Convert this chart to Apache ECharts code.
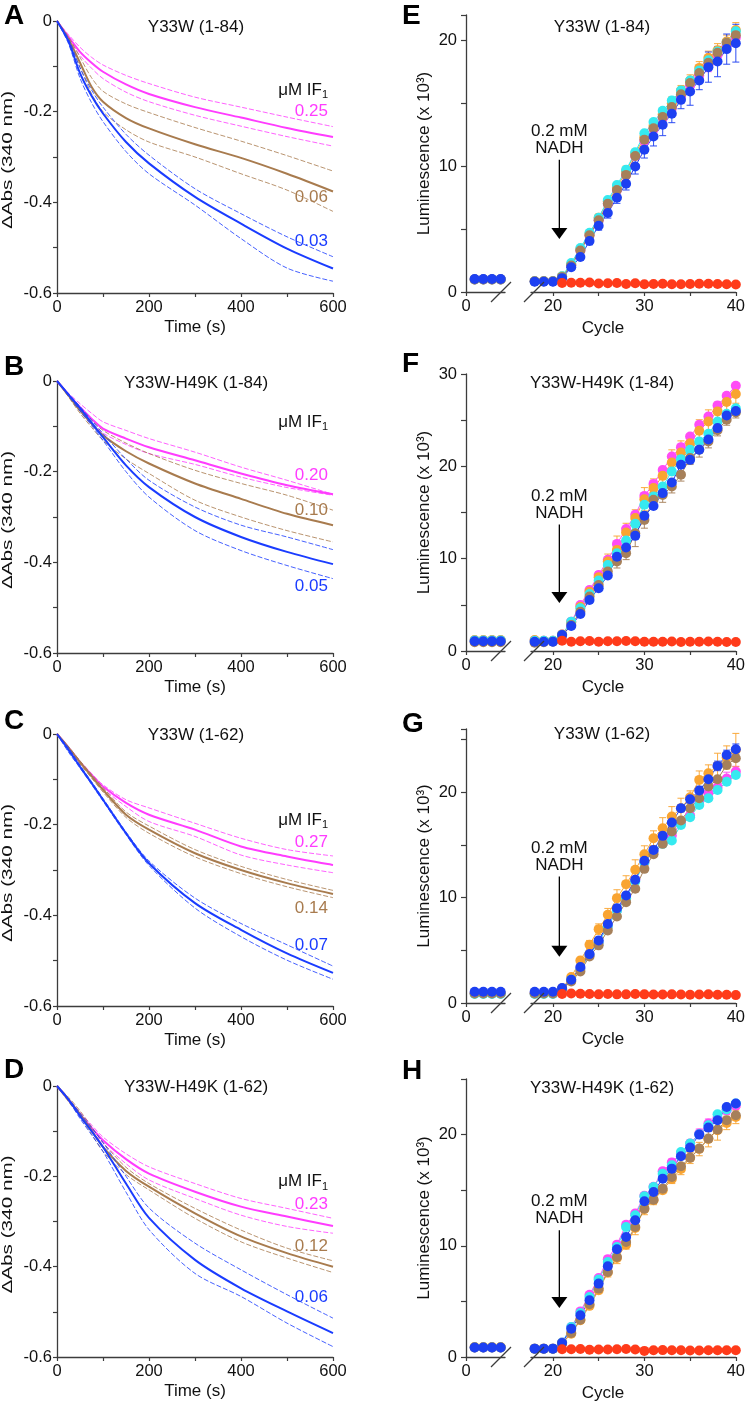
<!DOCTYPE html>
<html>
<head>
<meta charset="utf-8">
<script src="https://cdn.jsdelivr.net/npm/echarts@6/dist/echarts.min.js"></script>
<style>
  html, body { margin: 0; padding: 0; background: #fff; }
  #fig { width: 748px; height: 1402px; }
</style>
</head>
<body>
<div id="fig"></div>
<script>
// ---- absorbance traces (panels A-D), ΔAbs at 340 nm vs time (s) ----
const T = [0, 25, 50, 75, 100, 150, 200, 300, 400, 500, 600];

const A_mag   = [0, -0.035, -0.068, -0.092, -0.112, -0.140, -0.161, -0.190, -0.213, -0.236, -0.256];
const A_magHi = [0, -0.030, -0.058, -0.080, -0.097, -0.120, -0.138, -0.168, -0.190, -0.212, -0.233];
const A_magLo = [0, -0.040, -0.076, -0.104, -0.127, -0.157, -0.178, -0.208, -0.232, -0.255, -0.276];
const A_brn   = [0, -0.040, -0.092, -0.145, -0.178, -0.214, -0.237, -0.272, -0.302, -0.337, -0.376];
const A_brnHi = [0, -0.035, -0.080, -0.125, -0.155, -0.183, -0.202, -0.235, -0.265, -0.297, -0.331];
const A_brnLo = [0, -0.045, -0.102, -0.160, -0.200, -0.240, -0.267, -0.300, -0.337, -0.373, -0.420];
const A_blu   = [0, -0.045, -0.115, -0.165, -0.204, -0.267, -0.314, -0.388, -0.447, -0.502, -0.546];
const A_bluHi = [0, -0.040, -0.103, -0.152, -0.190, -0.250, -0.296, -0.370, -0.425, -0.476, -0.520];
const A_bluLo = [0, -0.050, -0.126, -0.180, -0.222, -0.288, -0.337, -0.406, -0.480, -0.545, -0.574];

const B_mag   = [0, -0.030, -0.058, -0.083, -0.105, -0.127, -0.146, -0.175, -0.204, -0.230, -0.250];
const B_magHi = [0, -0.027, -0.050, -0.071, -0.090, -0.109, -0.127, -0.157, -0.190, -0.219, -0.250];
const B_magLo = [0, -0.033, -0.063, -0.091, -0.115, -0.140, -0.160, -0.184, -0.212, -0.235, -0.252];
const B_brn   = [0, -0.032, -0.065, -0.094, -0.120, -0.155, -0.182, -0.226, -0.260, -0.293, -0.318];
const B_brnHi = [0, -0.030, -0.060, -0.086, -0.109, -0.137, -0.160, -0.197, -0.226, -0.252, -0.285];
const B_brnLo = [0, -0.035, -0.071, -0.102, -0.131, -0.172, -0.204, -0.263, -0.300, -0.330, -0.355];
const B_blu   = [0, -0.030, -0.060, -0.092, -0.124, -0.186, -0.234, -0.300, -0.344, -0.377, -0.404];
const B_bluHi = [0, -0.028, -0.056, -0.086, -0.116, -0.172, -0.219, -0.278, -0.318, -0.344, -0.372];
const B_bluLo = [0, -0.033, -0.066, -0.098, -0.131, -0.200, -0.256, -0.330, -0.374, -0.407, -0.436];

const C_mag   = [0, -0.030, -0.062, -0.090, -0.116, -0.152, -0.178, -0.211, -0.248, -0.270, -0.289];
const C_magHi = [0, -0.030, -0.060, -0.087, -0.112, -0.145, -0.163, -0.197, -0.230, -0.255, -0.269];
const C_magLo = [0, -0.030, -0.064, -0.093, -0.120, -0.160, -0.193, -0.226, -0.267, -0.289, -0.306];
const C_brn   = [0, -0.030, -0.062, -0.093, -0.123, -0.178, -0.211, -0.263, -0.300, -0.329, -0.353];
const C_brnHi = [0, -0.028, -0.059, -0.089, -0.118, -0.172, -0.203, -0.255, -0.292, -0.321, -0.345];
const C_brnLo = [0, -0.032, -0.066, -0.097, -0.128, -0.184, -0.219, -0.271, -0.308, -0.337, -0.361];
const C_blu   = [0, -0.035, -0.072, -0.108, -0.145, -0.219, -0.285, -0.373, -0.432, -0.484, -0.527];
const C_bluHi = [0, -0.030, -0.069, -0.105, -0.142, -0.216, -0.280, -0.362, -0.418, -0.465, -0.512];
const C_bluLo = [0, -0.040, -0.075, -0.111, -0.148, -0.222, -0.290, -0.384, -0.447, -0.499, -0.541];

const D_mag   = [0, -0.030, -0.063, -0.092, -0.120, -0.162, -0.194, -0.234, -0.267, -0.289, -0.310];
const D_magHi = [0, -0.028, -0.058, -0.086, -0.113, -0.150, -0.179, -0.216, -0.249, -0.271, -0.293];
const D_magLo = [0, -0.032, -0.068, -0.098, -0.127, -0.172, -0.208, -0.249, -0.286, -0.311, -0.326];
const D_brn   = [0, -0.030, -0.062, -0.098, -0.135, -0.188, -0.223, -0.282, -0.333, -0.370, -0.400];
const D_brnHi = [0, -0.025, -0.055, -0.090, -0.125, -0.180, -0.216, -0.271, -0.319, -0.359, -0.387];
const D_brnLo = [0, -0.035, -0.068, -0.106, -0.145, -0.196, -0.230, -0.293, -0.345, -0.381, -0.413];
const D_blu   = [0, -0.030, -0.066, -0.100, -0.135, -0.216, -0.292, -0.385, -0.448, -0.499, -0.547];
const D_bluHi = [0, -0.028, -0.060, -0.092, -0.125, -0.200, -0.270, -0.348, -0.407, -0.462, -0.514];
const D_bluLo = [0, -0.032, -0.072, -0.108, -0.145, -0.235, -0.318, -0.415, -0.466, -0.525, -0.577];

const CONC_A = ['0.25', '0.06', '0.03'];
const CONC_B = ['0.20', '0.10', '0.05'];
const CONC_C = ['0.27', '0.14', '0.07'];
const CONC_D = ['0.23', '0.12', '0.06'];

// ---- luminescence (panels E-H), x 10^3 vs cycle ----
// first 4 values: cycles 1-4, then cycles 18-40
const CYC_PRE = [1, 2, 3, 4];
const CYC_RUN = [18, 19, 20, 21, 22, 23, 24, 25, 26, 27, 28, 29, 30, 31, 32, 33, 34, 35, 36, 37, 38, 39, 40];
const CYC_RED = [21, 22, 23, 24, 25, 26, 27, 28, 29, 30, 31, 32, 33, 34, 35, 36, 37, 38, 39, 40];

const E_mag = [1.0, 1.0, 1.0, 1.0, 0.85, 0.85, 0.85, 1.2, 2.1, 3.3, 4.5, 5.7, 7.0, 8.1, 9.3, 10.8, 12.0, 12.9, 13.8, 14.6, 15.5, 16.4, 17.2, 18.0, 18.8, 19.6, 20.2];
const E_org = [1.0, 1.0, 1.0, 1.0, 0.85, 0.85, 0.85, 1.25, 2.2, 3.4, 4.6, 5.9, 7.2, 8.3, 9.6, 11.0, 12.3, 13.2, 14.1, 15.0, 16.0, 16.8, 17.8, 18.6, 19.2, 19.9, 20.8];
const E_cyn = [1.0, 1.0, 1.0, 1.0, 0.85, 0.85, 0.85, 1.25, 2.3, 3.5, 4.7, 5.9, 7.3, 8.5, 9.7, 11.1, 12.6, 13.5, 14.4, 15.2, 16.0, 16.8, 17.6, 18.4, 19.1, 19.8, 20.7];
const E_brn = [1.0, 1.0, 1.0, 1.0, 0.85, 0.85, 0.85, 1.2, 2.1, 3.3, 4.5, 5.7, 7.0, 8.1, 9.3, 10.8, 12.1, 13.0, 13.9, 14.7, 15.7, 16.6, 17.4, 18.2, 19.0, 19.8, 20.4];
const E_blu = [1.03, 1.03, 1.03, 1.03, 0.82, 0.82, 0.82, 1.1, 1.96, 2.78, 4.05, 5.26, 6.27, 7.49, 8.6, 9.97, 11.3, 12.35, 13.28, 14.15, 15.26, 15.93, 16.8, 17.86, 18.3, 19.29, 19.76];
const E_red = [0.72, 0.74, 0.74, 0.75, 0.68, 0.7, 0.72, 0.64, 0.7, 0.62, 0.64, 0.66, 0.62, 0.62, 0.64, 0.66, 0.66, 0.64, 0.62, 0.6];
const E_magErr = [0.1, 0.1, 0.1, 0.1, 0.15, 0.15, 0.2, 0.2, 0.25, 0.25, 0.3, 0.3, 0.3, 0.3, 0.3, 0.3, 0.4, 0.4, 0.4, 0.5, 0.5, 0.5, 0.6];
const E_orgErr = [0.1, 0.1, 0.1, 0.15, 0.2, 0.2, 0.25, 0.3, 0.3, 0.35, 0.4, 0.35, 0.4, 0.45, 0.5, 0.5, 0.4, 0.45, 0.5, 0.53, 0.53, 0.5, 0.6];
const E_bluErr = [0.1, 0.1, 0.1, 0.1, 0.2, 0.25, 0.3, 0.35, 0.4, 0.45, 0.5, 0.6, 0.66, 0.75, 0.86, 0.7, 0.7, 1.1, 0.73, 1.2, 1.2, 1.2, 1.5];

const F_mag = [1.15, 1.15, 1.15, 1.15, 1.15, 1.1, 1.1, 1.8, 3.18, 4.99, 6.6, 8.24, 9.87, 11.6, 13.2, 14.75, 16.8, 18.1, 19.6, 21.07, 22.08, 23.24, 24.5, 25.4, 26.6, 27.65, 28.73];
const F_org = [1.2, 1.2, 1.2, 1.2, 1.2, 1.1, 1.1, 1.8, 3.1, 4.8, 6.43, 8.0, 9.7, 10.95, 12.83, 14.4, 16.44, 17.64, 18.97, 20.42, 21.5, 22.5, 23.85, 24.86, 25.95, 26.96, 27.83];
const F_cyn = [1.15, 1.15, 1.15, 1.15, 1.1, 1.1, 1.1, 1.75, 3.18, 4.63, 6.18, 7.63, 9.32, 10.59, 11.96, 13.77, 15.83, 16.73, 17.82, 19.44, 20.78, 21.79, 22.7, 23.53, 24.86, 25.7, 26.3];
const F_brn = [0.95, 0.95, 0.95, 0.95, 0.9, 0.95, 1.0, 1.7, 2.82, 4.26, 5.9, 7.15, 8.6, 9.69, 10.6, 12.76, 14.2, 16.37, 16.9, 17.82, 19.1, 20.9, 21.8, 22.7, 23.9, 25.05, 25.84];
const F_blu = [1.05, 1.05, 1.05, 1.05, 1.0, 1.0, 1.0, 1.73, 2.71, 4.0, 5.53, 6.8, 8.17, 10.2, 11.2, 12.47, 14.64, 15.7, 17.1, 18.25, 20.17, 20.7, 21.8, 22.9, 24.14, 25.5, 26.0];
const F_red = [1.12, 1.0, 1.05, 1.08, 1.0, 1.05, 1.05, 1.08, 1.05, 1.0, 1.0, 1.0, 1.02, 0.98, 1.0, 1.0, 1.02, 1.0, 0.97, 0.97];
const F_orgErr = [0.1, 0.1, 0.1, 0.2, 0.3, 0.4, 0.5, 0.6, 0.8, 1.5, 1.0, 0.9, 1.26, 1.0, 0.9, 1.37, 1.26, 1.0, 1.2, 1.26, 1.0, 1.0, 1.0];
const F_brnErr = [0.1, 0.1, 0.1, 0.2, 0.3, 0.3, 0.4, 0.5, 0.6, 0.7, 0.7, 1.45, 0.9, 0.8, 0.8, 0.7, 0.7, 0.7, 0.8, 0.7, 0.6, 0.6, 0.6];

const G_mag = [0.9, 0.9, 0.9, 0.9, 0.9, 0.9, 0.9, 1.3, 2.2, 3.3, 4.6, 5.8, 7.3, 8.8, 10.1, 11.7, 13.3, 14.4, 15.2, 15.9, 17.1, 17.8, 19.1, 19.9, 20.5, 21.3, 21.96];
const G_org = [0.9, 0.9, 0.9, 0.9, 0.9, 0.9, 0.9, 1.4, 2.46, 4.04, 5.53, 7.01, 8.37, 9.95, 11.28, 12.64, 14.12, 15.64, 16.59, 17.69, 18.48, 19.53, 21.17, 21.8, 22.5, 23.3, 24.0];
const G_cyn = [0.85, 0.85, 0.85, 0.85, 0.85, 0.85, 0.85, 1.3, 2.2, 3.22, 4.58, 5.75, 7.27, 8.75, 9.95, 11.53, 13.33, 14.44, 15.1, 15.42, 16.9, 17.63, 18.8, 19.43, 20.22, 21.0, 21.64];
const G_brn = [0.9, 0.9, 0.9, 0.9, 0.9, 0.9, 0.9, 1.3, 2.05, 3.0, 4.42, 5.47, 6.89, 8.21, 9.57, 10.84, 12.73, 14.12, 15.1, 16.27, 17.31, 18.48, 19.43, 20.54, 21.23, 22.59, 23.22];
const G_blu = [1.07, 1.07, 1.07, 1.07, 1.07, 1.07, 1.07, 1.42, 2.2, 3.41, 4.64, 5.94, 7.49, 9.0, 10.2, 11.69, 13.49, 14.53, 15.86, 17.12, 18.48, 19.34, 20.16, 21.23, 22.5, 23.54, 24.08];
const G_red = [0.85, 0.9, 0.88, 0.85, 0.82, 0.85, 0.82, 0.82, 0.85, 0.82, 0.8, 0.8, 0.82, 0.8, 0.78, 0.8, 0.82, 0.78, 0.78, 0.75];
const G_magErr = [0.1, 0.1, 0.1, 0.1, 0.15, 0.2, 0.2, 0.25, 0.3, 0.3, 0.3, 0.3, 0.3, 0.3, 0.35, 0.35, 0.4, 0.4, 0.4, 0.5, 0.45, 0.6, 0.5];
const G_orgErr = [0.1, 0.1, 0.1, 0.1, 0.2, 0.3, 0.4, 0.5, 0.6, 0.8, 0.8, 0.95, 0.8, 0.7, 1.0, 0.95, 0.95, 0.6, 0.85, 0.8, 1.2, 1.1, 1.58];
const G_bluErr = [0.1, 0.1, 0.1, 0.1, 0.15, 0.2, 0.2, 0.2, 0.25, 0.25, 0.3, 0.3, 0.3, 0.3, 0.3, 0.3, 0.35, 0.35, 0.4, 0.4, 0.45, 0.45, 0.5];

const H_mag = [0.85, 0.85, 0.85, 0.85, 0.75, 0.75, 0.75, 1.3, 2.7, 4.1, 5.6, 7.1, 8.8, 10.1, 11.9, 12.9, 14.5, 15.3, 16.7, 17.5, 18.3, 19.2, 20.1, 21.0, 21.5, 22.2, 22.6];
const H_org = [0.9, 0.9, 0.9, 0.9, 0.75, 0.75, 0.75, 1.2, 2.1, 3.3, 4.6, 6.0, 7.6, 8.9, 10.1, 11.6, 13.3, 14.1, 15.0, 16.0, 16.9, 17.9, 18.7, 19.6, 20.4, 21.05, 21.59];
const H_cyn = [0.85, 0.85, 0.85, 0.85, 0.75, 0.75, 0.75, 1.3, 2.7, 3.96, 5.4, 6.96, 8.55, 9.9, 11.69, 12.74, 14.45, 15.29, 16.49, 17.24, 18.44, 19.19, 20.03, 20.84, 21.83, 22.25, 22.79];
const H_brn = [0.85, 0.85, 0.85, 0.85, 0.75, 0.75, 0.75, 1.25, 2.16, 3.36, 4.74, 6.15, 7.65, 9.0, 10.34, 11.69, 13.34, 14.15, 15.14, 16.19, 17.15, 17.93, 18.74, 19.64, 20.45, 21.29, 21.74];
const H_blu = [0.85, 0.85, 0.85, 0.85, 0.75, 0.75, 0.75, 1.26, 2.55, 3.75, 5.1, 6.6, 8.16, 9.69, 10.79, 12.29, 14.0, 14.84, 16.04, 16.94, 18.05, 18.83, 20.0, 20.63, 21.29, 22.49, 22.79];
const H_red = [0.7, 0.7, 0.72, 0.65, 0.68, 0.68, 0.7, 0.72, 0.68, 0.55, 0.6, 0.62, 0.6, 0.6, 0.58, 0.58, 0.6, 0.6, 0.6, 0.6];
const H_magErr = [0.1, 0.1, 0.1, 0.1, 0.15, 0.2, 0.2, 0.2, 0.25, 0.3, 0.3, 0.3, 0.3, 0.3, 0.3, 0.3, 0.3, 0.35, 0.4, 0.4, 0.5, 0.4, 0.3];
const H_orgErr = [0.1, 0.1, 0.1, 0.1, 0.2, 0.2, 0.3, 0.3, 0.4, 0.5, 0.4, 0.6, 0.5, 0.4, 0.3, 0.4, 0.5, 0.5, 0.6, 0.7, 0.9, 0.6, 0.6];

// ---- styling / layout ----
const FONT = "'Liberation Sans', Arial, sans-serif";
const INK = '#111';
const AXIS = '#3c3c3c';
const TRACE = { mag: '#ff3cff', brn: '#a87b4e', blu: '#1a3cff' };
const DOT = { mag: '#ff4cf6', org: '#f9a431', cyn: '#35eaf0', brn: '#a6805a', blu: '#1d40f2', red: '#ff3b1a' };

const LEFT = [
  { tag: 'A', title: 'Y33W (1-84)', top: 21, height: 272, titleY: 27, tagY: 16,
    curves: { mag: [A_mag, A_magHi, A_magLo], brn: [A_brn, A_brnHi, A_brnLo], blu: [A_blu, A_bluHi, A_bluLo] },
    conc: CONC_A, labelAt: [-0.152, -0.199, -0.390, -0.485] },
  { tag: 'B', title: 'Y33W-H49K (1-84)', top: 381, height: 272, titleY: 383, tagY: 367,
    curves: { mag: [B_mag, B_magHi, B_magLo], brn: [B_brn, B_brnHi, B_brnLo], blu: [B_blu, B_bluHi, B_bluLo] },
    conc: CONC_B, labelAt: [-0.091, -0.208, -0.285, -0.453] },
  { tag: 'C', title: 'Y33W (1-62)', top: 734, height: 272, titleY: 735, tagY: 721,
    curves: { mag: [C_mag, C_magHi, C_magLo], brn: [C_brn, C_brnHi, C_brnLo], blu: [C_blu, C_bluHi, C_bluLo] },
    conc: CONC_C, labelAt: [-0.190, -0.238, -0.384, -0.466] },
  { tag: 'D', title: 'Y33W-H49K (1-62)', top: 1086, height: 271, titleY: 1087, tagY: 1070,
    curves: { mag: [D_mag, D_magHi, D_magLo], brn: [D_brn, D_brnHi, D_brnLo], blu: [D_blu, D_bluHi, D_bluLo] },
    conc: CONC_D, labelAt: [-0.212, -0.263, -0.356, -0.468] }
];

const RIGHT = [
  { tag: 'E', title: 'Y33W (1-84)', top: 15, height: 277, yMax: 22, titleY: 27, tagY: 16, arrow: [20.7, 10.5, 4.2],
    series: [['mag', E_mag, E_magErr], ['org', E_org, E_orgErr], ['cyn', E_cyn, null], ['brn', E_brn, null], ['blu', E_blu, E_bluErr]], red: E_red },
  { tag: 'F', title: 'Y33W-H49K (1-84)', top: 374, height: 277, yMax: 30, titleY: 383, tagY: 364, arrow: [20.7, 13.7, 5.2],
    series: [['mag', F_mag, null], ['org', F_org, F_orgErr], ['cyn', F_cyn, null], ['brn', F_brn, F_brnErr], ['blu', F_blu, null]], red: F_red },
  { tag: 'G', title: 'Y33W (1-62)', top: 729, height: 274, yMax: 26, titleY: 734, tagY: 724, arrow: [20.7, 12.0, 4.4],
    series: [['mag', G_mag, G_magErr], ['org', G_org, G_orgErr], ['cyn', G_cyn, null], ['brn', G_brn, null], ['blu', G_blu, G_bluErr]], red: G_red },
  { tag: 'H', title: 'Y33W-H49K (1-62)', top: 1079, height: 278, yMax: 25, titleY: 1088, tagY: 1071, arrow: [20.7, 11.4, 4.4],
    series: [['mag', H_mag, H_magErr], ['org', H_org, H_orgErr], ['cyn', H_cyn, null], ['brn', H_brn, null], ['blu', H_blu, null]], red: H_red }
];

const LEFT_X = 57, LEFT_W = 276;
const SEG1_X = 466, SEG1_W = 39, SEG1_MAX = 4.5;
const SEG2_X = 531, SEG2_W = 208, SEG2_MIN = 17.6;

const axisLine = { show: true, onZero: false, lineStyle: { color: AXIS, width: 1.3 } };
const tickStyle = { lineStyle: { color: AXIS, width: 1.2 } };
const labelStyle = { color: INK, fontSize: 16.5, fontFamily: FONT };

const grids = [], xAxes = [], yAxes = [], series = [];

LEFT.forEach((p, i) => {
  grids.push({ left: LEFT_X, top: p.top, width: LEFT_W, height: p.height });
  xAxes.push({
    type: 'value', gridIndex: i, min: 0, max: 600, interval: 100,
    axisLine, axisTick: { show: true, length: 4, ...tickStyle }, splitLine: { show: false },
    axisLabel: { ...labelStyle, margin: 6, hideOverlap: false, formatter: v => (v % 200 === 0 ? String(v) : '') }
  });
  yAxes.push({
    type: 'value', gridIndex: i, min: -0.6, max: 0, interval: 0.1,
    axisLine, axisTick: { show: true, length: 4, ...tickStyle }, splitLine: { show: false },
    axisLabel: {
      ...labelStyle, margin: 5, hideOverlap: false,
      formatter: v => { const k = Math.round(v * 10); return k % 2 === 0 ? (k === 0 ? '0' : (k / 10).toFixed(1)) : ''; }
    }
  });
  ['mag', 'brn', 'blu'].forEach(key => {
    const [mid, hi, lo] = p.curves[key];
    [hi, lo].forEach(arr => series.push({
      type: 'line', xAxisIndex: i, yAxisIndex: i, smooth: 0.3, showSymbol: false, silent: true,
      data: T.map((t, k) => [t, arr[k]]),
      lineStyle: { color: TRACE[key], width: 0.9, type: [5, 2], opacity: 0.9 }
    }));
    series.push({
      type: 'line', xAxisIndex: i, yAxisIndex: i, smooth: 0.3, showSymbol: false, silent: true,
      data: T.map((t, k) => [t, mid[k]]),
      lineStyle: { color: TRACE[key], width: 2 }
    });
  });
});

function errorBars(gi, color, vals, errs) {
  return {
    type: 'custom', xAxisIndex: gi, yAxisIndex: gi, silent: true, z: 2,
    data: CYC_RUN.map((c, k) => [c, vals[4 + k], errs[k]]),
    encode: { x: 0, y: 1 },
    renderItem: (params, api) => {
      const x = api.value(0), y = api.value(1), e = api.value(2);
      const hi = api.coord([x, y + e]), lo = api.coord([x, y - e]);
      const st = { stroke: color, lineWidth: 1.1, opacity: 0.85 };
      return {
        type: 'group', children: [
          { type: 'line', shape: { x1: hi[0], y1: hi[1], x2: lo[0], y2: lo[1] }, style: st },
          { type: 'line', shape: { x1: hi[0] - 3.5, y1: hi[1], x2: hi[0] + 3.5, y2: hi[1] }, style: st },
          { type: 'line', shape: { x1: lo[0] - 3.5, y1: lo[1], x2: lo[0] + 3.5, y2: lo[1] }, style: st }
        ]
      };
    }
  };
}

function dotLine(gi, color, data) {
  return {
    type: 'line', xAxisIndex: gi, yAxisIndex: gi, silent: true, z: 3,
    data, symbol: 'circle', symbolSize: 10,
    itemStyle: { color }, lineStyle: { color, width: 1 }
  };
}

RIGHT.forEach((p, j) => {
  const g1 = 4 + 2 * j, g2 = g1 + 1;
  grids.push({ left: SEG1_X, top: p.top, width: SEG1_W, height: p.height });
  grids.push({ left: SEG2_X, top: p.top, width: SEG2_W, height: p.height });
  xAxes.push({
    type: 'value', gridIndex: g1, min: 0, max: SEG1_MAX,
    axisLine, splitLine: { show: false },
    axisTick: { show: true, length: 4, customValues: [0], ...tickStyle },
    axisLabel: { ...labelStyle, margin: 6, customValues: [0] }
  });
  xAxes.push({
    type: 'value', gridIndex: g2, min: SEG2_MIN, max: 40,
    axisLine, splitLine: { show: false },
    axisTick: { show: true, length: 4, customValues: [20, 25, 30, 35, 40], ...tickStyle },
    axisLabel: { ...labelStyle, margin: 6, customValues: [20, 30, 40], hideOverlap: false }
  });
  yAxes.push({
    type: 'value', gridIndex: g1, min: 0, max: p.yMax, interval: 5,
    axisLine, splitLine: { show: false },
    axisTick: { show: true, length: 5, ...tickStyle },
    axisLabel: { ...labelStyle, margin: 9, hideOverlap: false, formatter: v => (v % 10 === 0 ? String(v) : '') },
    name: 'Luminescence (x 10³)', nameLocation: 'middle', nameGap: 33,
    nameTextStyle: { color: INK, fontSize: 17, fontFamily: FONT }
  });
  yAxes.push({ type: 'value', gridIndex: g2, min: 0, max: p.yMax, show: false });

  p.series.forEach(([key, vals, errs]) => {
    if (errs) series.push(errorBars(g2, DOT[key], vals, errs));
  });
  p.series.forEach(([key, vals]) => {
    series.push(dotLine(g1, DOT[key], CYC_PRE.map((c, k) => [c, vals[k]])));
    series.push(dotLine(g2, DOT[key], CYC_RUN.map((c, k) => [c, vals[4 + k]])));
  });
  series.push(dotLine(g2, DOT.red, CYC_RED.map((c, k) => [c, p.red[k]])));
});

const chart = echarts.init(document.getElementById('fig'), null, { renderer: 'canvas' });
chart.setOption({
  animation: false,
  backgroundColor: '#fff',
  textStyle: { fontFamily: FONT },
  grid: grids, xAxis: xAxes, yAxis: yAxes, series
});

// ---- annotations placed through the axes ----
function txt(x, y, text, opts) {
  const o = Object.assign({ size: 17, color: INK, align: 'center', valign: 'middle', weight: 'normal' }, opts || {});
  return {
    type: 'text', x, y, silent: true, z: 10,
    rotation: o.rotation || 0, scaleX: o.scaleX || 1, scaleY: 1,
    style: {
      text, fill: o.color, fontSize: o.size, fontFamily: FONT, fontWeight: o.weight,
      align: o.align, textAlign: o.align, verticalAlign: o.valign, textVerticalAlign: o.valign,
      lineHeight: o.lineHeight || o.size * 1.0
    }
  };
}

const gfx = [];
LEFT.forEach((p, i) => {
  const cx = LEFT_X + LEFT_W / 2;
  gfx.push(txt(4, p.tagY, p.tag, { size: 28, weight: 'bold', align: 'left', color: '#000' }));
  gfx.push(txt(cx + 1, p.titleY, p.title));
  gfx.push(txt(cx, p.top + p.height + 34, 'Time (s)'));
  gfx.push(txt(8, p.top + p.height / 2 + 3, 'ΔAbs (340 nm)', { size: 15, rotation: Math.PI / 2, scaleX: 1.38 }));
  const [lx, ly0] = chart.convertToPixel({ gridIndex: i }, [589, p.labelAt[0]]);
  gfx.push(txt(lx - 6, ly0, 'μM IF', { align: 'right' }));
  gfx.push(txt(lx - 6, ly0 + 5, '1', { align: 'left', size: 11 }));
  ['mag', 'brn', 'blu'].forEach((key, k) => {
    const [, yy] = chart.convertToPixel({ gridIndex: i }, [589, p.labelAt[k + 1]]);
    gfx.push(txt(lx, yy, p.conc[k], { align: 'right', color: TRACE[key] }));
  });
});

RIGHT.forEach((p, j) => {
  const g1 = 4 + 2 * j, g2 = g1 + 1;
  const base = chart.convertToPixel({ gridIndex: g1 }, [SEG1_MAX, 0]);
  const start = chart.convertToPixel({ gridIndex: g2 }, [SEG2_MIN, 0]);
  gfx.push(txt(402, p.tagY, p.tag, { size: 28, weight: 'bold', align: 'left', color: '#000' }));
  gfx.push(txt(602, p.titleY, p.title));
  gfx.push(txt(603, base[1] + 36, 'Cycle'));
  // axis break marks
  [[base[0] - 4, base[1]], [start[0] + 3, start[1]]].forEach(([sx, sy]) => gfx.push({
    type: 'line', silent: true, z: 10,
    shape: { x1: sx - 10, y1: sy + 10, x2: sx + 10, y2: sy - 10 },
    style: { stroke: AXIS, lineWidth: 1.2 }
  }));
  // NADH addition arrow
  const [ax, yTop, yTip] = p.arrow;
  const top = chart.convertToPixel({ gridIndex: g2 }, [ax, yTop]);
  const tip = chart.convertToPixel({ gridIndex: g2 }, [ax, yTip]);
  gfx.push({ type: 'line', silent: true, z: 10, shape: { x1: top[0], y1: top[1], x2: tip[0], y2: tip[1] - 8 },
    style: { stroke: '#000', lineWidth: 1.3 } });
  gfx.push({ type: 'polygon', silent: true, z: 10,
    shape: { points: [[tip[0] - 8, tip[1] - 11], [tip[0] + 8, tip[1] - 11], [tip[0], tip[1]]] },
    style: { fill: '#000' } });
  gfx.push(txt(top[0], top[1] - 3, '0.2 mM\nNADH', { valign: 'bottom', lineHeight: 17 }));
});

chart.setOption({ graphic: { elements: gfx } });
</script>
</body>
</html>
